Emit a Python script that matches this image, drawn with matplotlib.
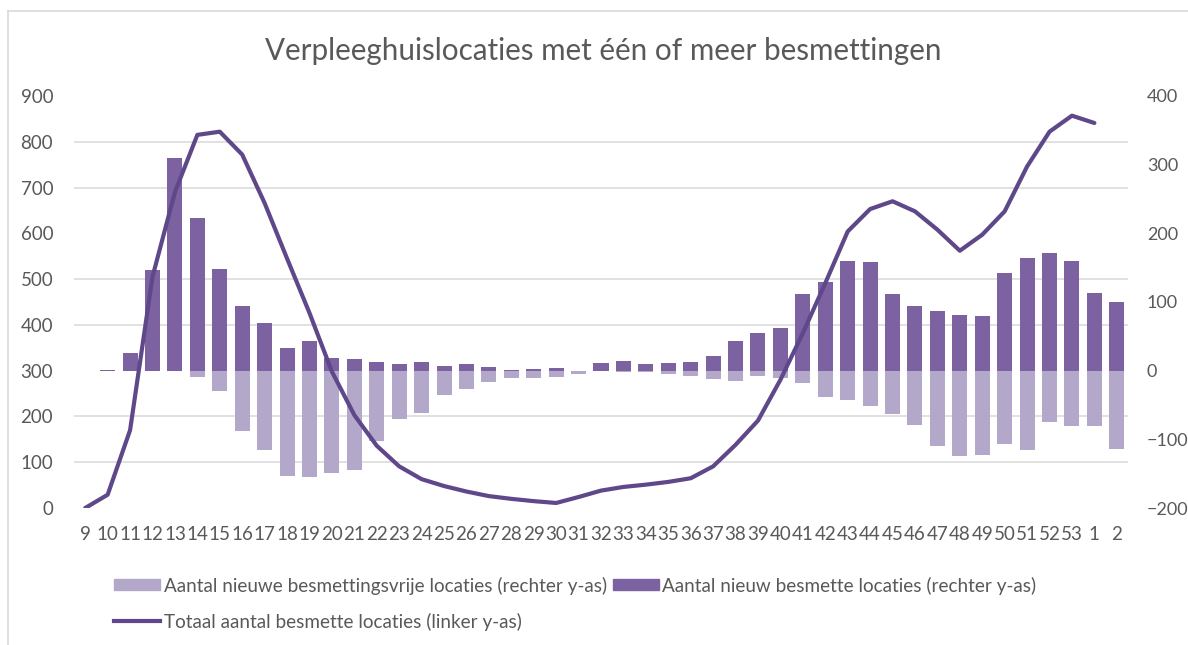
import matplotlib.pyplot as plt
import numpy as np
from matplotlib.lines import Line2D
from matplotlib.patches import Patch
from matplotlib.ticker import FixedLocator

plt.rcParams['font.family'] = ['Lato', 'DejaVu Sans']

# weeknummers (2020 t/m begin 2021)
weeks = ['9', '10', '11', '12', '13', '14', '15', '16', '17', '18', '19', '20',
         '21', '22', '23', '24', '25', '26', '27', '28', '29', '30', '31', '32',
         '33', '34', '35', '36', '37', '38', '39', '40', '41', '42', '43', '44',
         '45', '46', '47', '48', '49', '50', '51', '52', '53', '1', '2']

# nieuw besmette locaties (rechter y-as)
nieuw_besmet = [0, 1, 26, 147, 310, 223, 148, 94, 69, 33, 43, 19,
                17, 12, 10, 13, 7, 9, 5, 1, 2, 4, 0, 11,
                14, 10, 11, 12, 22, 43, 55, 62, 111, 129, 160, 158,
                111, 94, 87, 81, 79, 142, 164, 171, 159, 113, 100]

# nieuwe besmettingsvrije locaties (rechter y-as, negatief)
besmettingsvrij = [0, 0, 0, 0, 0, -9, -30, -88, -115, -153, -155, -149,
                   -144, -103, -70, -61, -36, -26, -17, -11, -11, -9, -5, -1,
                   -2, -2, -5, -8, -12, -15, -8, -11, -18, -39, -42, -51,
                   -63, -79, -109, -124, -123, -107, -115, -75, -80, -81, -114]

# totaal besmette locaties (linker y-as), week 2 nog geen waarde
totaal = [0, 29, 170, 505, 690, 815, 822, 772, 666, 545, 426, 298,
          203, 136, 91, 63, 48, 36, 26, 20, 15, 11, 24, 38,
          46, 51, 57, 65, 91, 138, 191, 280, 382, 491, 604, 653,
          670, 648, 608, 562, 597, 648, 746, 822, 857, 841, np.nan]

DARK = '#7D62A1'
LIGHT = '#B4A8CA'
LINE = '#5E4889'
GREY = '#595959'
GRID = '#D9D9D9'

x = np.arange(len(weeks))

fig, ax = plt.subplots(figsize=(11.88, 6.45), dpi=100)
fig.subplots_adjust(left=0.0623, right=0.9495, bottom=0.2124, top=0.8512)
ax2 = ax.twinx()

# staven op de rechter as
ax2.bar(x, nieuw_besmet, width=0.67, color=DARK, zorder=2)
ax2.bar(x, besmettingsvrij, width=0.67, color=LIGHT, zorder=2)
ax2.set_ylim(-200, 400)
ax2.set_yticks(range(-200, 401, 100))
# rasterlijnen volgen de linker as (0..900 per 100)
ax2.yaxis.set_minor_locator(FixedLocator(np.linspace(-200, 400, 10)))
ax2.grid(which='minor', axis='y', color=GRID, lw=1.1, zorder=0)
ax2.set_axisbelow(True)
ax2.tick_params(which='both', length=0)
ax2.tick_params(axis='y', labelsize=13, labelcolor=GREY, pad=13.5)

# lijn op de linker as, boven de staven
ax.plot(x, totaal, color=LINE, lw=3, solid_joinstyle='round', solid_capstyle='round')
ax.set_ylim(0, 900)
ax.set_yticks(range(0, 901, 100))
ax.set_xlim(-0.5, len(weeks) - 0.5)
ax.set_xticks(x, weeks)
ax.tick_params(length=0, labelsize=13.5, labelcolor=GREY)
ax.tick_params(axis='y', pad=15)
ax.tick_params(axis='x', pad=13)
ax.set_zorder(ax2.get_zorder() + 1)
ax.patch.set_visible(False)

for a in (ax, ax2):
    for s in a.spines.values():
        s.set_visible(False)

fig.text(603 / 1188, 1 - 60 / 645, 'Verpleeghuislocaties met één of meer besmettingen',
         ha='center', va='baseline', fontsize=21.3, color=GREY)

handles = [Patch(color=LIGHT), Line2D([], [], color=LINE, lw=3), Patch(color=DARK)]
labels = ['Aantal nieuwe besmettingsvrije locaties (rechter y-as)',
          'Totaal aantal besmette locaties (linker y-as)',
          'Aantal nieuw besmette locaties (rechter y-as)']
fig.legend(handles, labels, ncol=2, loc='upper left',
           bbox_to_anchor=(105 / 1188, 1 - 567 / 645), frameon=False,
           fontsize=13.6, labelcolor=GREY, borderpad=0, handlelength=2.4,
           handleheight=0.5, handletextpad=0.2, columnspacing=0.35,
           labelspacing=0.95)

# kader rond de grafiek
fig.add_artist(Line2D([8 / 1188, 8 / 1188], [0, 1 - 11 / 645], color=GRID, lw=1.2))
fig.add_artist(Line2D([8 / 1188, 1], [1 - 11 / 645, 1 - 11 / 645], color=GRID, lw=1.2))

fig.savefig('out.png', dpi=100)
